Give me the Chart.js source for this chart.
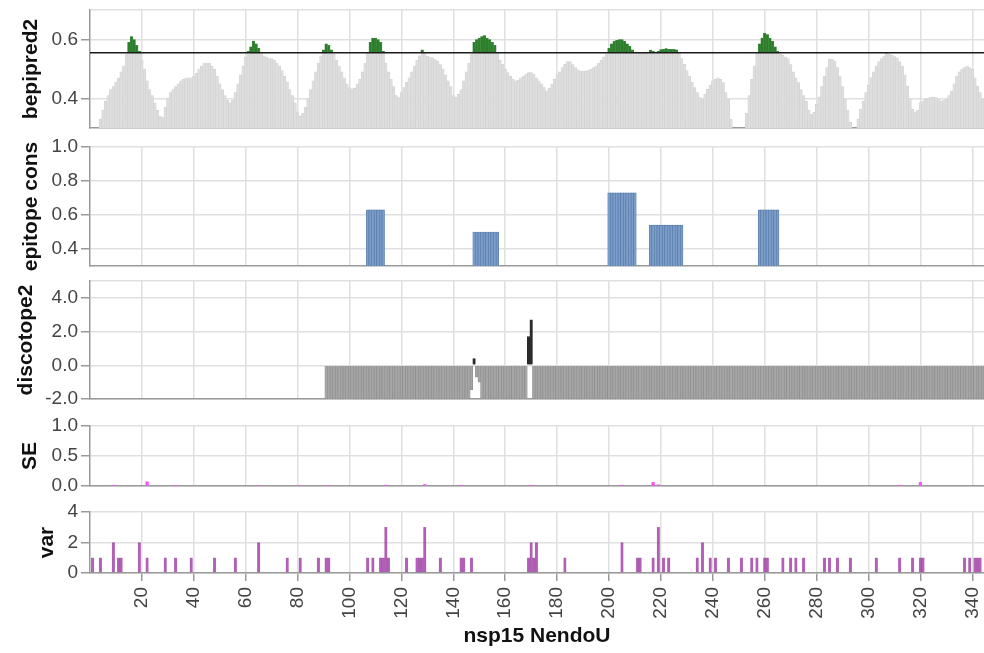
<!DOCTYPE html>
<html>
<head>
<meta charset="utf-8">
<script src="https://cdn.jsdelivr.net/npm/chart.js@4.4.1/dist/chart.umd.min.js"></script>
<style>
    html, body { margin: 0; padding: 0; background: #fff; }
    #wrap { position: relative; width: 984px; height: 653px; overflow: hidden; }
    #wrap canvas { position: absolute; left: 0; }
</style>
</head>
<body>
<div id="wrap">
    <canvas id="bepiChart" width="984" height="146" style="top:-4px"></canvas>
    <canvas id="epiChart" width="984" height="147" style="top:133px"></canvas>
    <canvas id="discoChart" width="984" height="146" style="top:267px"></canvas>
    <canvas id="seChart" width="984" height="88" style="top:412px"></canvas>
    <canvas id="varChart" width="984" height="155" style="top:498px"></canvas>
</div>
<script>
// residue axis
const X_MIN = 0;
const X_MAX = 344.5;
const xTicks = [20, 40, 60, 80, 100, 120, 140, 160, 180, 200, 220, 240, 260, 280, 300, 320, 340];

// bepipred2 score per residue, starting at residue 1
const BEPI_THRESHOLD = 0.555;
const bepiScore = [
    0.26, 0.28, 0.30, 0.33, 0.36, 0.39, 0.41, 0.43, 0.44, 0.455,
    0.47, 0.49, 0.51, 0.55, 0.59, 0.61, 0.60, 0.58, 0.56, 0.53,
    0.50, 0.46, 0.43, 0.41, 0.385, 0.36, 0.34, 0.335, 0.37, 0.40,
    0.42, 0.43, 0.44, 0.45, 0.46, 0.465, 0.47, 0.47, 0.47, 0.475,
    0.485, 0.50, 0.51, 0.52, 0.52, 0.52, 0.51, 0.50, 0.475, 0.45,
    0.43, 0.41, 0.395, 0.385, 0.395, 0.42, 0.45, 0.48, 0.51, 0.54,
    0.56, 0.575, 0.595, 0.585, 0.57, 0.555, 0.545, 0.54, 0.535, 0.535,
    0.53, 0.52, 0.51, 0.495, 0.475, 0.455, 0.43, 0.41, 0.385, 0.355,
    0.34, 0.35, 0.37, 0.40, 0.43, 0.46, 0.49, 0.52, 0.545, 0.565,
    0.585, 0.58, 0.565, 0.55, 0.53, 0.51, 0.49, 0.47, 0.45, 0.437,
    0.433, 0.435, 0.45, 0.465, 0.49, 0.52, 0.555, 0.59, 0.605, 0.605,
    0.60, 0.59, 0.56, 0.52, 0.49, 0.465, 0.44, 0.41, 0.403, 0.42,
    0.437, 0.455, 0.47, 0.49, 0.51, 0.53, 0.545, 0.565, 0.555, 0.544,
    0.54, 0.538, 0.532, 0.527, 0.515, 0.50, 0.48, 0.46, 0.44, 0.41,
    0.405, 0.414, 0.43, 0.46, 0.49, 0.52, 0.55, 0.59, 0.60, 0.605,
    0.61, 0.613, 0.605, 0.60, 0.59, 0.58, 0.555, 0.53, 0.516, 0.50,
    0.488, 0.475, 0.465, 0.46, 0.462, 0.47, 0.476, 0.483, 0.488, 0.488,
    0.482, 0.47, 0.46, 0.45, 0.437, 0.426, 0.435, 0.448, 0.465, 0.48,
    0.49, 0.505, 0.516, 0.525, 0.525, 0.515, 0.505, 0.497, 0.493, 0.493,
    0.493, 0.495, 0.499, 0.505, 0.51, 0.52, 0.53, 0.54, 0.55, 0.57,
    0.585, 0.594, 0.597, 0.60, 0.60, 0.594, 0.585, 0.578, 0.565, 0.557,
    0.553, 0.553, 0.553, 0.553, 0.555, 0.564, 0.56, 0.555, 0.56, 0.566,
    0.567, 0.569, 0.567, 0.567, 0.567, 0.565, 0.555, 0.535, 0.516, 0.495,
    0.476, 0.455, 0.437, 0.42, 0.403, 0.398, 0.415, 0.431, 0.445, 0.46,
    0.465, 0.47, 0.465, 0.454, 0.42, 0.398, 0.33, 0.29, 0.28, 0.28,
    0.28, 0.29, 0.35, 0.41, 0.465, 0.51, 0.555, 0.585, 0.605, 0.622,
    0.617, 0.605, 0.594, 0.575, 0.56, 0.55, 0.546, 0.54, 0.535, 0.515,
    0.49, 0.47, 0.454, 0.43, 0.41, 0.39, 0.36, 0.347, 0.353, 0.38,
    0.405, 0.44, 0.476, 0.505, 0.533, 0.533, 0.527, 0.505, 0.476, 0.44,
    0.398, 0.36, 0.319, 0.30, 0.29, 0.33, 0.364, 0.39, 0.42, 0.445,
    0.471, 0.49, 0.51, 0.525, 0.535, 0.545, 0.556, 0.55, 0.546, 0.542,
    0.538, 0.525, 0.51, 0.48, 0.443, 0.40, 0.364, 0.355, 0.36, 0.385,
    0.392, 0.398, 0.40, 0.405, 0.405, 0.403, 0.398, 0.392, 0.395, 0.398,
    0.41, 0.426, 0.45, 0.476, 0.49, 0.499, 0.505, 0.51, 0.505, 0.499,
    0.47, 0.443, 0.42, 0.398
];

// epitope conservation regions
const epiFrom = [107, 148, 200, 216, 258];
const epiTo = [113, 157, 210, 228, 265];
const epiScore = [0.63, 0.50, 0.73, 0.54, 0.63];

// discotope2: structure covers residues 91..344, most scores below the -2 floor
const discoFrom = 91;
const discoTo = 344;
const discoFloor = -2.0;
const discoRes = [147, 148, 149, 150, 169, 170];
const discoVal = [-1.45, 0.4, -0.7, -1.0, 1.7, 2.7];

// SE
const seRes = [9, 22, 33, 65, 81, 92, 114, 129, 143, 170, 205, 217, 219, 312, 320];
const seVal = [0.01, 0.07, 0.01, 0.01, 0.01, 0.01, 0.015, 0.025, 0.01, 0.01, 0.01, 0.06, 0.02, 0.01, 0.06];

// var
const varRes = [1, 4, 9, 11, 12, 19, 22, 29, 33, 39, 48, 56, 65, 76, 81, 88, 91, 92,
    107, 109, 112, 113, 114, 115, 122, 126, 127, 128, 129, 135, 143, 144, 147,
    169, 170, 171, 172, 183, 205, 211, 212, 217, 219, 221, 223, 234, 236, 239, 241,
    246, 251, 255, 257, 260, 261, 267, 270, 272, 275, 283, 285, 288, 293, 303, 312,
    317, 320, 321, 337, 339, 341, 342, 343];
const varVal = [1, 1, 2, 1, 1, 2, 1, 1, 1, 1, 1, 1, 2, 1, 1, 1, 1, 1,
    1, 1, 1, 1, 3, 1, 1, 1, 1, 1, 3, 1, 1, 1, 1,
    1, 2, 1, 2, 1, 2, 1, 1, 1, 3, 1, 1, 1, 2, 1, 1,
    1, 1, 1, 1, 1, 1, 1, 1, 1, 1, 1, 1, 1, 1, 1, 1,
    1, 1, 1, 1, 1, 1, 1, 1];

const FONT = "'Liberation Sans', Arial, Helvetica, sans-serif";
const tickFont = { family: FONT, size: 19 };
const titleFont = { family: FONT, size: 21, weight: "bold" };
const GRID = "#e0e0e0";
const AXIS = "#9a9a9a";
const TICK = "#444";
const PLOT_LEFT = 90;
const RES_PX = (984 - PLOT_LEFT) / (X_MAX - X_MIN);

function panelOptions(cfg) {
    const yTicks = cfg.top !== undefined ? cfg.ticks.concat([cfg.top]) : cfg.ticks;
    return {
        responsive: false,
        animation: false,
        events: [],
        layout: { padding: { top: 14, bottom: cfg.showX ? 0 : 14, left: 0, right: 0 } },
        plugins: { legend: { display: false }, tooltip: { enabled: false } },
        scales: {
            x: {
                type: "linear",
                min: X_MIN,
                max: X_MAX,
                offset: false,
                afterBuildTicks: s => { s.ticks = xTicks.map(v => ({ value: v })); },
                afterFit: s => {
                    s.height = cfg.showX ? 80 : 0;
                    s.paddingLeft = 0;
                    s.paddingRight = 0;
                },
                grid: { offset: false, color: GRID, lineWidth: 1.5, drawTicks: !!cfg.showX, tickLength: 8, tickColor: AXIS, tickWidth: 1.5 },
                border: { color: AXIS, width: 1.5 },
                ticks: {
                    display: !!cfg.showX,
                    autoSkip: false,
                    minRotation: 90,
                    maxRotation: 90,
                    padding: 6,
                    font: tickFont,
                    color: TICK,
                    callback: v => String(v)
                },
                title: {
                    display: !!cfg.showX,
                    text: "nsp15 NendoU",
                    font: titleFont,
                    color: "#111",
                    padding: { top: 0, bottom: 4 }
                }
            },
            y: {
                min: cfg.min,
                max: cfg.max,
                afterBuildTicks: s => { s.ticks = yTicks.map(v => ({ value: v })); },
                afterFit: s => {
                    s.width = PLOT_LEFT;
                    s.paddingTop = 0;
                    s.paddingBottom = 0;
                },
                grid: {
                    color: GRID,
                    lineWidth: 1.5,
                    tickLength: 9,
                    tickWidth: 1.5,
                    tickColor: ctx => cfg.ticks.includes(ctx.tick && ctx.tick.value) ? AXIS : "rgba(0,0,0,0)"
                },
                border: { color: AXIS, width: 1.5 },
                ticks: {
                    padding: 3,
                    font: tickFont,
                    color: TICK,
                    callback: v => cfg.ticks.includes(v) ? cfg.fmt(v) : ""
                },
                title: {
                    display: true,
                    text: cfg.title,
                    font: titleFont,
                    color: "#111",
                    padding: { top: cfg.titlePad, bottom: 0 }
                }
            }
        }
    };
}

const oneDecimal = v => v.toFixed(1);

function drawBepipred() {
    const grey = bepiScore.map((v, i) => ({ x: i + 1, y: v }));
    const green = bepiScore
        .map((v, i) => ({ x: i + 1, y: [BEPI_THRESHOLD, v] }))
        .filter(d => d.y[1] > BEPI_THRESHOLD);

    new Chart(document.getElementById("bepiChart"), {
        type: "bar",
        data: {
            datasets: [
                {
                    type: "line",
                    data: [{ x: X_MIN, y: BEPI_THRESHOLD }, { x: X_MAX, y: BEPI_THRESHOLD }],
                    borderColor: "#1a1a1a",
                    borderWidth: 1.6,
                    pointRadius: 0,
                    order: 0
                },
                {
                    data: green,
                    backgroundColor: "#2d7d2d",
                    borderColor: "#3f923f",
                    borderWidth: 0.5,
                    barThickness: RES_PX,
                    grouped: false,
                    order: 1
                },
                {
                    data: grey,
                    backgroundColor: "#dedede",
                    borderColor: "#d0d0d0",
                    borderWidth: 0.6,
                    barThickness: RES_PX,
                    grouped: false,
                    order: 2
                }
            ]
        },
        options: panelOptions({ min: 0.3, max: 0.7, ticks: [0.4, 0.6], top: 0.7, fmt: oneDecimal, title: "bepipred2", titlePad: 19 })
    });
}

function drawEpitope() {
    const bars = [];
    epiFrom.forEach((from, k) => {
        for (let r = from; r <= epiTo[k]; r++) bars.push({ x: r, y: epiScore[k] });
    });

    new Chart(document.getElementById("epiChart"), {
        type: "bar",
        data: {
            datasets: [{
                data: bars,
                backgroundColor: "#7c9dc8",
                borderColor: "#5579ab",
                borderWidth: 0.7,
                barThickness: RES_PX,
                grouped: false
            }]
        },
        options: panelOptions({ min: 0.3, max: 1.0, ticks: [0.4, 0.6, 0.8, 1.0], fmt: oneDecimal, title: "epitope cons", titlePad: 19 })
    });
}

function drawDiscotope() {
    const bars = [];
    for (let r = discoFrom; r <= discoTo; r++) {
        const k = discoRes.indexOf(r);
        bars.push({ x: r, y: k >= 0 ? discoVal[k] : discoFloor });
    }

    new Chart(document.getElementById("discoChart"), {
        type: "bar",
        data: {
            datasets: [{
                data: bars,
                backgroundColor: ctx => ctx.raw && ctx.raw.y > 0 ? "#2a2a2a" : "#a6a6a6",
                borderColor: ctx => ctx.raw && ctx.raw.y > 0 ? "#2a2a2a" : "#8c8c8c",
                borderWidth: 0.7,
                barThickness: RES_PX,
                grouped: false
            }]
        },
        options: panelOptions({ min: -2, max: 5, ticks: [-2, 0, 2, 4], top: 5, fmt: oneDecimal, title: "discotope2", titlePad: 14 })
    });
}

function drawSE() {
    new Chart(document.getElementById("seChart"), {
        type: "bar",
        data: {
            datasets: [{
                data: seRes.map((r, i) => ({ x: r, y: seVal[i] })),
                backgroundColor: "#ff4dff",
                barThickness: RES_PX,
                grouped: false
            }]
        },
        options: panelOptions({ min: 0, max: 1, ticks: [0, 0.5, 1.0], fmt: oneDecimal, title: "SE", titlePad: 18 })
    });
}

function drawVar() {
    new Chart(document.getElementById("varChart"), {
        type: "bar",
        data: {
            datasets: [{
                data: varRes.map((r, i) => ({ x: r, y: varVal[i] })),
                backgroundColor: "rgba(168, 70, 175, 0.72)",
                borderColor: "rgba(135, 20, 140, 0.6)",
                borderWidth: 0.8,
                barThickness: RES_PX,
                grouped: false
            }]
        },
        options: panelOptions({ min: 0, max: 4, ticks: [0, 2, 4], fmt: v => String(v), title: "var", titlePad: 35, showX: true })
    });
}

drawBepipred();
drawEpitope();
drawDiscotope();
drawSE();
drawVar();
</script>
</body>
</html>
